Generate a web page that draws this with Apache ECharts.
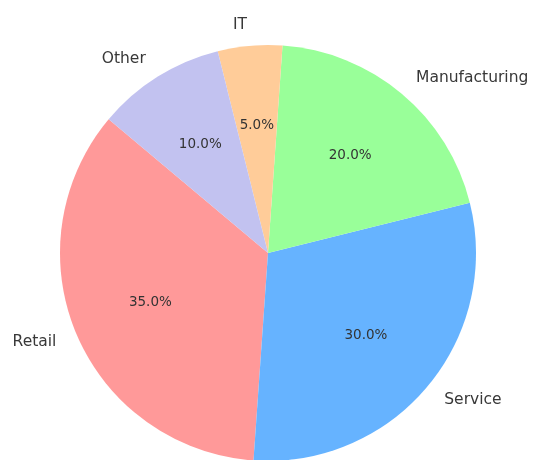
<!DOCTYPE html>
<html>
<head>
<meta charset="utf-8">
<script src="https://cdn.jsdelivr.net/npm/echarts@6/dist/echarts.min.js"></script>
<style>
  html, body { margin: 0; padding: 0; background: #fff; }
  #chart { width: 538px; height: 460px; }
</style>
</head>
<body>
<div id="chart"></div>
<script>
// Industry share, listed counter-clockwise from the upper-left boundary
const categories = ['Retail', 'Service', 'Manufacturing', 'IT', 'Other'];
const shares = [35, 30, 20, 5, 10];
const colors = ['#ff9999', '#66b3ff', '#99ff99', '#ffcc99', '#c2c2f0'];

const R = 208;            // pie radius in px
const CENTER = [268, 253];
const FONT = 'DejaVu Sans';

const sliceData = categories.map((name, i) => ({
  name, value: shares[i], itemStyle: { color: colors[i] }
}));

const total = shares.reduce((a, b) => a + b, 0);

const chart = echarts.init(document.getElementById('chart'), null, { renderer: 'canvas' });
chart.setOption({
  animation: false,
  backgroundColor: '#ffffff',
  series: [
    {
      // coloured wedges with category names just outside the rim
      type: 'pie',
      center: CENTER,
      radius: [0, R],
      startAngle: 140,
      clockwise: false,
      silent: true,
      avoidLabelOverlap: false,
      data: sliceData,
      label: {
        show: true,
        position: 'outside',
        formatter: '{b}',
        color: '#383838',
        fontFamily: FONT,
        fontSize: 15.5,
        distanceToLabelLine: 1
      },
      labelLine: { show: false, length: R * 0.1, length2: 0 },
      emphasis: { disabled: true }
    },
    {
      // invisible ring whose mid-radius carries the percentage labels
      type: 'pie',
      center: CENTER,
      radius: [0, R * 1.2],
      startAngle: 140,
      clockwise: false,
      silent: true,
      data: sliceData.map(d => ({ name: d.name, value: d.value })),
      itemStyle: { color: 'rgba(0,0,0,0)' },
      label: {
        show: true,
        position: 'inside',
        formatter: p => (p.value / total * 100).toFixed(1) + '%',
        color: '#333333',
        fontFamily: FONT,
        fontSize: 13.5
      },
      labelLine: { show: false },
      emphasis: { disabled: true }
    }
  ]
});
</script>
</body>
</html>
